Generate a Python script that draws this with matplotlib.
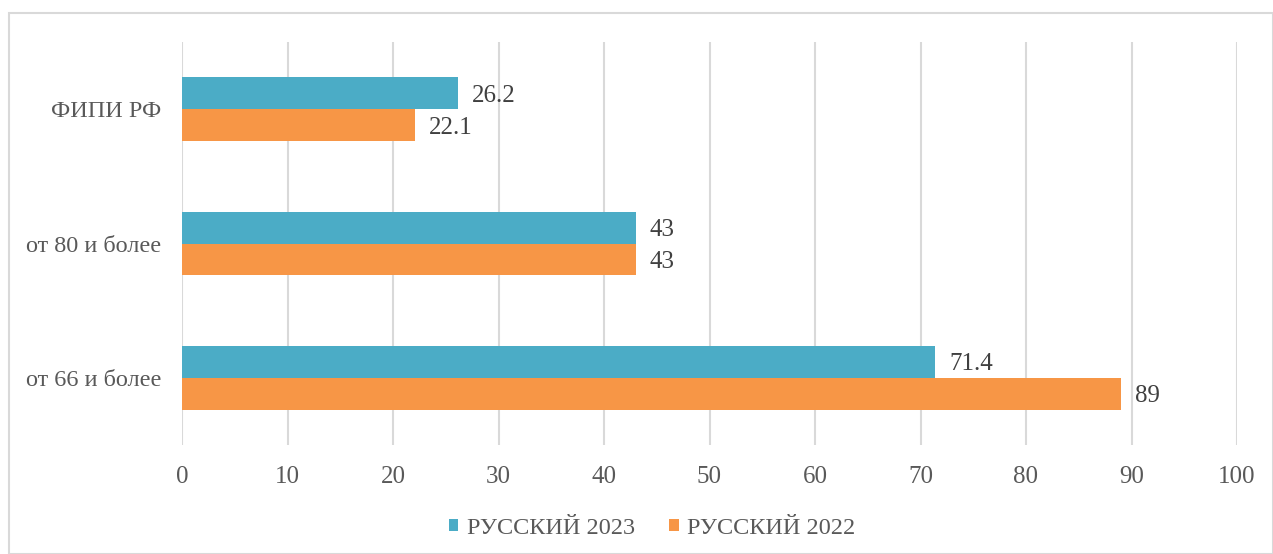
import matplotlib.pyplot as plt
from matplotlib.patches import Rectangle

plt.rcParams['font.family'] = ['Liberation Serif', 'DejaVu Serif']

categories = ["от 66 и более", "от 80 и более", "ФИПИ РФ"]
rus_2023 = [71.4, 43, 26.2]
rus_2022 = [89, 43, 22.1]
labels_2023 = ["71.4", "43", "26.2"]
labels_2022 = ["89", "43", "22.1"]

c2023 = "#4BACC6"
c2022 = "#F79646"
txt = "#595959"

fig = plt.figure(figsize=(12.73, 5.54), dpi=100)
fig.patches.append(Rectangle((9/1273, 0), 1 - 9/1273, 1 - 13/554, transform=fig.transFigure,
                             fill=False, edgecolor="#D9D9D9", linewidth=1.5))
ax = fig.add_axes([182/1273, 1 - 445/554, (1237 - 182)/1273, (445 - 42)/554])

h = 0.238
y = range(len(categories))
b1 = ax.barh([i + h/2 for i in y], rus_2023, height=h, color=c2023, label="РУССКИЙ 2023")
b2 = ax.barh([i - h/2 for i in y], rus_2022, height=h, color=c2022, label="РУССКИЙ 2022")

for bars, labs in ((b1, labels_2023), (b2, labels_2022)):
    for bar, lab in zip(bars, labs):
        ax.text(bar.get_width() + 1.3, bar.get_y() + bar.get_height()/2, lab,
                va="center_baseline", ha="left", fontsize=18, color="#404040")

ax.set_xlim(0, 100)
ax.set_ylim(-0.5, 2.5)
ax.set_xticks(range(0, 101, 10))
ax.set_yticks(list(y))
ax.set_yticklabels(categories)
ax.tick_params(length=0, labelsize=17.5, labelcolor=txt)
ax.tick_params(axis="x", labelsize=18, pad=15)
ax.tick_params(axis="y", pad=15)
ax.grid(axis="x", color="#D9D9D9", linewidth=1.5)
ax.set_axisbelow(True)
for s in ax.spines.values():
    s.set_visible(False)

fig.legend(handles=[b1, b2], loc="center", bbox_to_anchor=(652/1273, 1 - 528/554), ncol=2,
           frameon=False, fontsize=17.5, labelcolor=txt, handlelength=0.4, handleheight=0.4,
           handletextpad=0.35, columnspacing=1.4)

fig.savefig("out.png", dpi=100)
